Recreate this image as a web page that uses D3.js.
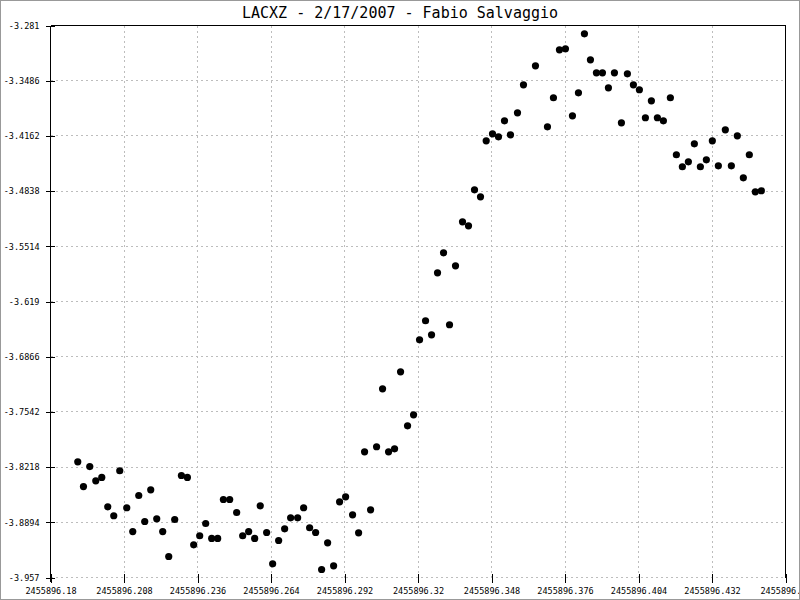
<!DOCTYPE html>
<html>
<head>
<meta charset="utf-8">
<script src="https://cdn.jsdelivr.net/npm/d3@7"></script>
<style>
html,body{margin:0;padding:0;background:#fff;}
svg{display:block;}
</style>
</head>
<body>
<svg id="chart" width="800" height="600"></svg>
<script>
const title = "LACXZ - 2/17/2007 - Fabio Salvaggio";

const jd = [
2455896.19039,2455896.19256,2455896.19496,2455896.19725,2455896.19953,2455896.20181,2455896.20410,2455896.20638,
2455896.20905,2455896.21133,2455896.21362,2455896.21590,2455896.21818,2455896.22047,2455896.22275,2455896.22504,
2455896.22732,2455896.22987,2455896.23215,2455896.23455,2455896.23684,2455896.23912,2455896.24141,2455896.24369,
2455896.24586,2455896.24826,2455896.25092,2455896.25321,2455896.25549,2455896.25778,2455896.25990,2455896.26234,
2455896.26463,2455896.26691,2455896.26920,2455896.27148,2455896.27415,2455896.27643,2455896.27871,2455896.28100,
2455896.28328,2455896.28557,2455896.28785,2455896.29013,2455896.29242,2455896.29508,2455896.29737,2455896.29965,
2455896.30194,2455896.30422,2455896.30650,2455896.30879,2455896.31107,2455896.31336,2455896.31602,2455896.31831,
2455896.32059,2455896.32287,2455896.32516,2455896.32744,2455896.32973,2455896.33201,2455896.33429,2455896.33696,
2455896.33924,2455896.34153,2455896.34381,2455896.34598,2455896.34838,2455896.35066,2455896.35295,2455896.35523,
2455896.35790,2455896.36018,2455896.36475,2455896.36932,2455896.37160,2455896.37389,2455896.37617,2455896.37884,
2455896.38112,2455896.38340,2455896.38569,2455896.38797,2455896.39026,2455896.39254,2455896.39483,2455896.39749,
2455896.39977,2455896.40206,2455896.40434,2455896.40663,2455896.40891,2455896.41120,2455896.41348,2455896.41614,
2455896.41843,2455896.42071,2455896.42300,2455896.42528,2455896.42757,2455896.42985,2455896.43213,2455896.43442,
2455896.43708,2455896.43937,2455896.44165,2455896.44394,2455896.44622,2455896.44850,2455896.45079
];

const mag = [
-3.8153,-3.8456,-3.8211,-3.8386,-3.8345,-3.8704,-3.8814,-3.8263,
-3.8716,-3.9007,-3.8566,-3.8884,-3.8496,-3.8851,-3.9007,-3.9313,
-3.8860,-3.8321,-3.8345,-3.9170,-3.9059,-3.8909,-3.9092,-3.9092,
-3.8615,-3.8615,-3.8774,-3.9059,-3.9007,-3.9092,-3.8692,-3.9019,
-3.9402,-3.9117,-3.8974,-3.8839,-3.8839,-3.8716,-3.8961,-3.9019,
-3.9472,-3.9145,-3.9427,-3.8643,-3.8582,-3.8802,-3.9023,-3.8031,
-3.8741,-3.7969,-3.7259,-3.8031,-3.7994,-3.7051,-3.7712,-3.7578,
-3.6659,-3.6426,-3.6598,-3.5839,-3.5594,-3.6475,-3.5753,-3.5214,
-3.5263,-3.4822,-3.4908,-3.4222,-3.4136,-3.4173,-3.3977,-3.4149,
-3.3879,-3.3536,-3.3304,-3.4051,-3.3695,-3.3108,-3.3095,-3.3916,
-3.3634,-3.2912,-3.3230,-3.3389,-3.3389,-3.3573,-3.3389,-3.4002,
-3.3402,-3.3536,-3.3597,-3.3940,-3.3732,-3.3940,-3.3977,-3.3695,
-3.4393,-3.4540,-3.4479,-3.4259,-3.4540,-3.4455,-3.4222,-3.4528,
-3.4087,-3.4528,-3.4161,-3.4675,-3.4393,-3.4847,-3.4834
];

const xTickLabels = ["2455896.18","2455896.208","2455896.236","2455896.264","2455896.292","2455896.32",
                     "2455896.348","2455896.376","2455896.404","2455896.432","2455896.46"];
const yTickLabels = ["-3.281","-3.3486","-3.4162","-3.4838","-3.5514","-3.619",
                     "-3.6866","-3.7542","-3.8218","-3.8894","-3.957"];

const svg = d3.select("#chart");
const L = 50.5, R = 785.5, T = 25.5, B = 577.5;

const x = d3.scaleLinear().domain([2455896.18, 2455896.46]).range([L, R]);
const y = d3.scaleLinear().domain([-3.957, -3.281]).range([B, T]);

const xTicks = xTickLabels.map(Number);
const yTicks = yTickLabels.map(Number);

svg.append("rect").attr("x",0).attr("y",0).attr("width",800).attr("height",600).attr("fill","#fff");

const mono = "'DejaVu Sans Mono', 'Liberation Mono', monospace";

// grid
const grid = svg.append("g").attr("shape-rendering","crispEdges");
grid.selectAll("line.h").data(yTicks.filter(v => v !== -3.281)).join("line")
  .attr("x1", L).attr("x2", R)
  .attr("y1", d => y(d)).attr("y2", d => y(d))
  .attr("stroke","#bdbdbd").attr("stroke-dasharray","2,3");
grid.selectAll("line.v").data(xTicks.slice(1, -1)).join("line")
  .attr("y1", T).attr("y2", B)
  .attr("x1", d => x(d)).attr("x2", d => x(d))
  .attr("stroke","#bdbdbd").attr("stroke-dasharray","2,3");

// frame lines (top, right)
grid.append("line").attr("x1",L).attr("x2",R).attr("y1",T).attr("y2",T).attr("stroke","#000");
grid.append("line").attr("x1",R).attr("x2",R).attr("y1",T).attr("y2",B).attr("stroke","#000");

// y axis
const yAxis = d3.axisLeft(y).tickValues(yTicks).tickFormat((d,i) => yTickLabels[i]).tickSizeInner(5).tickSizeOuter(0).tickPadding(6);
const gy = svg.append("g").attr("transform", `translate(${L},0)`).call(yAxis);
gy.select(".domain").remove();
gy.selectAll(".tick line").attr("x1", 4).attr("x2", -5).attr("stroke","#000").attr("shape-rendering","crispEdges");
gy.selectAll(".tick text").attr("font-family", mono).attr("font-size", "8.5px").attr("fill","#000").attr("x", -11);
gy.append("line").attr("x1",0).attr("x2",0).attr("y1",T).attr("y2",B + 4)
  .attr("stroke","#000").attr("shape-rendering","crispEdges");

// x axis
const xAxis = d3.axisBottom(x).tickValues(xTicks).tickFormat((d,i) => xTickLabels[i]).tickSizeInner(5).tickSizeOuter(0).tickPadding(6);
const gx = svg.append("g").attr("transform", `translate(0,${B})`).call(xAxis);
gx.select(".domain").remove();
gx.selectAll(".tick line").attr("y1", -4).attr("y2", 5).attr("stroke","#000").attr("shape-rendering","crispEdges");
gx.selectAll(".tick text").attr("font-family", mono).attr("font-size", "8.5px").attr("fill","#000").attr("y", 10);

// points
svg.append("g").selectAll("circle").data(jd.map((d,i) => [d, mag[i]])).join("circle")
  .attr("cx", d => x(d[0])).attr("cy", d => y(d[1])).attr("r", 3.6).attr("fill","#000");

// title
svg.append("text").attr("x", 400).attr("y", 18).attr("text-anchor","middle")
  .attr("font-family", mono).attr("font-size","15px").attr("fill","#000").text(title);

// outer border
svg.append("rect").attr("x",0.5).attr("y",0.5).attr("width",799).attr("height",599)
  .attr("fill","none").attr("stroke","#999").attr("shape-rendering","crispEdges");
</script>
</body>
</html>
